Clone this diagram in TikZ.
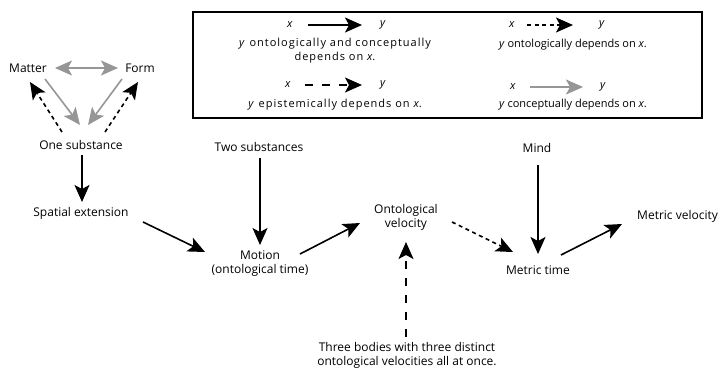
\documentclass[tikz,border=0pt]{standalone}
\usepackage{fontspec}
\setmainfont{Open Sans}
\usepackage{xcolor}
\usetikzlibrary{arrows.meta,positioning,calc}
\definecolor{concgray}{RGB}{150,150,150}

\begin{document}
\begin{tikzpicture}[x=1pt, y=-1pt,
    lbl/.style={inner sep=1pt, align=center, font=\fontsize{12}{14}\selectfont},
    key/.style={inner sep=1pt, align=center, font=\fontsize{11}{14}\selectfont},
    widekey/.style={key, font=\fontsize{11}{14}\selectfont\addfontfeature{LetterSpace=9}},
    tip/.style={-{Stealth[length=17pt, width=15pt, inset=4pt]}},
    both/.style={tip, line width=1.6pt},
    onto/.style={tip, line width=1.6pt, dash pattern=on 4pt off 3.5pt},
    epist/.style={tip, line width=1.6pt, dash pattern=on 8pt off 9pt},
    concept/.style={tip, line width=1.6pt, draw=concgray, fill=concgray}]
    \useasboundingbox (0,0) rectangle (721,368);

    % Legend
    \draw [line width=1.8pt] (193,12) rectangle (702,118);
    \node (lx1) [key] at (290,25) {\textit{x}};
    \node (ly1) [key] at (383,25) {\textit{y}};
    \draw [both] ([shift={(18,0)}]lx1.center) -- ([shift={(-21,0)}]ly1.center);
    \node (lt1) [widekey] at (335,51) {\textit{y} ontologically and conceptually\\depends on \textit{x}.};
    \node (lx2) [key] at (512,25) {\textit{x}};
    \node (ly2) [key] at (602,25) {\textit{y}};
    \draw [onto] ([shift={(15,0)}]lx2.center) -- ([shift={(-29,0)}]ly2.center);
    \node (lt2) [key] at (573,45) {\textit{y} ontologically depends on \textit{x}.};
    \node (lx3) [key] at (288,85) {\textit{x}};
    \node (ly3) [key] at (383,85) {\textit{y}};
    \draw [epist] ([shift={(17,0)}]lx3.center) -- ([shift={(-21,0)}]ly3.center);
    \node (lt3) [widekey] at (335,105) {\textit{y} epistemically depends on \textit{x}.};
    \node (lx4) [key] at (513,87) {\textit{x}};
    \node (ly4) [key] at (603,87) {\textit{y}};
    \draw [concept] ([shift={(17,0)}]lx4.center) -- ([shift={(-20,0)}]ly4.center);
    \node (lt4) [key] at (573,105) {\textit{y} conceptually depends on \textit{x}.};

    % Matter, form and one substance
    \node (matter) [lbl] at (28,68) {Matter};
    \node (form) [lbl] at (140,68) {Form};
    \node (one) [lbl] at (81,145) {One substance};
    \draw [concept, {Stealth[length=17pt, width=15pt, inset=4pt]}-{Stealth[length=17pt, width=15pt, inset=4pt]}]
        ([shift={(27,0)}]matter.center) -- ([shift={(-22,0)}]form.center);
    \draw [concept] ([shift={(17,11)}]matter.center) -- ([shift={(-1,-20)}]one.center);
    \draw [concept] ([shift={(-18,11)}]form.center) -- ([shift={(7,-20)}]one.center);
    \draw [onto] ([shift={(-19,-13)}]one.center) -- ([shift={(2,14)}]matter.center);
    \draw [onto] ([shift={(24,-13)}]one.center) -- ([shift={(-2,14)}]form.center);

    % Main chain
    \node (spatial) [lbl] at (81,213) {Spatial extension};
    \node (two) [lbl] at (259,147) {Two substances};
    \node (motion) [lbl] at (260,264) {Motion\\(ontological time)};
    \node (ontovel) [lbl] at (406,217) {Ontological\\velocity};
    \node (mind) [lbl] at (537,148) {Mind};
    \node (metric) [lbl] at (538,270) {Metric time};
    \node (metvel) [lbl, anchor=west] at (636,216) {Metric velocity};
    \node (three) [lbl] at (407,355) {Three bodies with three distinct\\ontological velocities all at once.};
    \draw [both] ([shift={(1,10)}]one.center) -- ([shift={(1,-11)}]spatial.center);
    \draw [both] ([shift={(62,9)}]spatial.center) -- ([shift={(-55,-12)}]motion.center);
    \draw [both] ([shift={(1,11)}]two.center) -- ([shift={(0,-19)}]motion.center);
    \draw [both] ([shift={(40,-10)}]motion.center) -- ([shift={(-46,6)}]ontovel.center);
    \draw [onto] ([shift={(46,5)}]ontovel.center) -- ([shift={(-25,-18)}]metric.center);
    \draw [both] ([shift={(1,17)}]mind.center) -- ([shift={(0,-16)}]metric.center);
    \draw [both] ([shift={(23,-15)}]metric.center) -- ([shift={(-14,8)}]metvel.west);
    \draw [epist] ([shift={(-1,-18)}]three.center) -- ([shift={(0,25)}]ontovel.center);
\end{tikzpicture}
\end{document}
